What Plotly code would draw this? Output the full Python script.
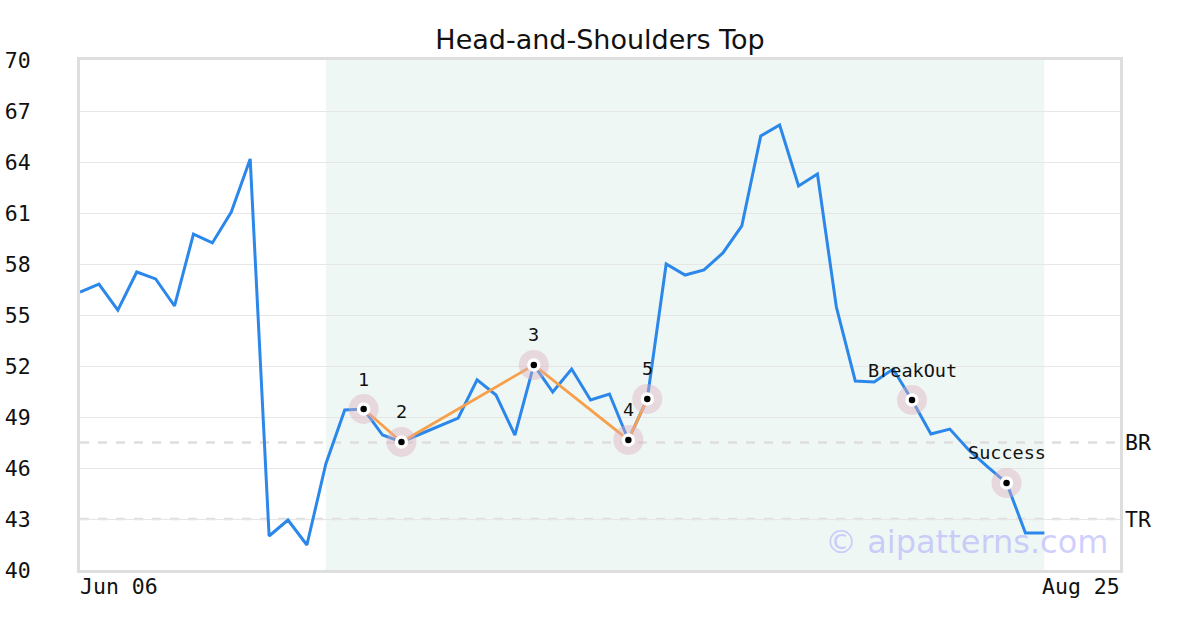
import plotly.graph_objects as go

# ---- data ----
prices = [56.35, 56.82, 55.29, 57.53, 57.12, 55.53, 59.76, 59.24, 61.06, 64.18,
          42.00, 42.94, 41.47, 46.24, 49.41, 49.47, 47.94, 47.53, 48.00, 48.45,
          48.94, 51.18, 50.29, 47.94, 52.06, 50.47, 51.82, 50.00, 50.35, 47.65,
          50.06, 58.00, 57.35, 57.65, 58.65, 60.24, 65.53, 66.18, 62.59, 63.29,
          55.47, 51.12, 51.06, 51.82, 50.00, 48.00, 48.29, 47.06, 46.06, 45.12,
          42.18, 42.18]
n_slots = 56  # axis positions Jun 06 .. Aug 25

pattern_idx = [15, 17, 24, 29, 30]
pattern_labels = ["1", "2", "3", "4", "5"]
event_idx = [44, 49]
event_labels = ["BreakOut", "Success"]

pattern_start, pattern_end = 13, 51
levels = [47.5, 43.0]
level_labels = ["BR", "TR"]

y_ticks = list(range(40, 71, 3))
x_tick_labels = ["Jun 06", "Aug 25"]

MONO = "DejaVu Sans Mono"
SANS = "DejaVu Sans"

x = list(range(len(prices)))
fig = go.Figure()

# shaded pattern region
fig.add_shape(type="rect", xref="x", yref="paper", x0=pattern_start, x1=pattern_end,
              y0=0, y1=1, fillcolor="#eff7f4", line_width=0, layer="below")

# level lines
for lv, lab in zip(levels, level_labels):
    fig.add_shape(type="line", xref="paper", yref="y", x0=0, x1=1, y0=lv, y1=lv,
                  line=dict(color="#dedede", width=2.5, dash="dash"), layer="below")
    fig.add_annotation(xref="paper", yref="y", x=1, y=lv, text=lab, showarrow=False,
                       xanchor="left", xshift=3, font=dict(family=MONO, size=21.5, color="#111"))

# price line
fig.add_trace(go.Scatter(x=x, y=prices, mode="lines",
                         line=dict(color="#2b87ea", width=3), hoverinfo="skip"))

# pattern connecting line
px = pattern_idx
py = [prices[i] for i in pattern_idx]
fig.add_trace(go.Scatter(x=px, y=py, mode="lines",
                         line=dict(color="#f7a04c", width=2.8), hoverinfo="skip"))

# markers
mx = pattern_idx + event_idx
my = [prices[i] for i in mx]
fig.add_trace(go.Scatter(x=mx, y=my, mode="markers",
                         marker=dict(size=30, color="rgba(220,175,190,0.42)", line_width=0),
                         hoverinfo="skip"))
fig.add_trace(go.Scatter(x=mx, y=my, mode="markers",
                         marker=dict(size=10, color="black", line=dict(color="white", width=3.5)),
                         hoverinfo="skip"))

# point labels
for i, lab in zip(pattern_idx + event_idx, pattern_labels + event_labels):
    fig.add_annotation(x=i, y=prices[i], text=lab, showarrow=False, yshift=30,
                       font=dict(family=MONO, size=18.5, color="#111"))

# x tick labels at ends
fig.add_annotation(xref="paper", yref="paper", x=0, y=0, text=x_tick_labels[0],
                   showarrow=False, xanchor="left", yanchor="top", yshift=-2, xshift=-2,
                   font=dict(family=MONO, size=21.5, color="#111"))
fig.add_annotation(xref="paper", yref="paper", x=1, y=0, text=x_tick_labels[1],
                   showarrow=False, xanchor="right", yanchor="top", yshift=-2, xshift=2,
                   font=dict(family=MONO, size=21.5, color="#111"))

# watermark
fig.add_annotation(xref="paper", yref="paper", x=0.99, y=0.055, text="© aipatterns.com",
                   showarrow=False, xanchor="right", yanchor="middle",
                   font=dict(family=SANS, size=32, color="rgba(175,175,252,0.6)"))

fig.update_layout(
    width=1200, height=630,
    margin=dict(l=80, r=80, t=60, b=60, autoexpand=False),
    paper_bgcolor="white", plot_bgcolor="white",
    showlegend=False,
    title=dict(text="Head-and-Shoulders Top", x=0.5, xanchor="center", y=1 - 40 / 630,
               yanchor="middle", font=dict(family=SANS, size=27, color="#111")),
    xaxis=dict(range=[0, n_slots - 1], showgrid=False, zeroline=False, showticklabels=False,
               showline=True, mirror=True, linecolor="#dedede", linewidth=3, ticks="",
               automargin=False),
    yaxis=dict(range=[40, 70], tickvals=y_ticks, showgrid=True, gridcolor="#e6e6e6",
               gridwidth=1, zeroline=False, showline=True, mirror=True,
               linecolor="#dedede", linewidth=3, ticks="", ticklabelstandoff=42,
               automargin=False,
               tickfont=dict(family=MONO, size=21.5, color="#111")),
)

fig.write_html("out.html", config={"displayModeBar": False},
               post_script="document.body.style.margin='0';")
